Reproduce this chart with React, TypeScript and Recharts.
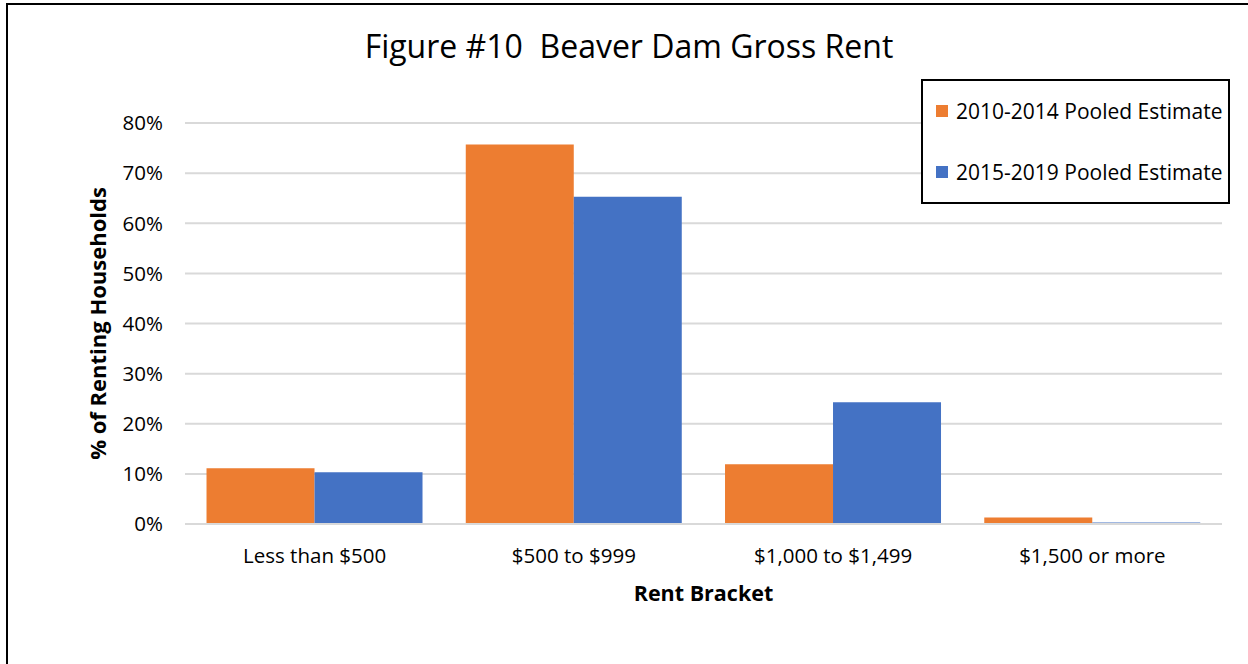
import { BarChart, Bar, XAxis, YAxis, CartesianGrid, Label } from 'recharts'

const brackets = ['Less than $500', '$500 to $999', '$1,000 to $1,499', '$1,500 or more']
const seriesNames = ['2010-2014 Pooled Estimate', '2015-2019 Pooled Estimate']
const pooled2010to2014 = [11.1, 75.7, 11.9, 1.3]
const pooled2015to2019 = [10.3, 65.3, 24.3, 0.3]
const yTicks = [0, 10, 20, 30, 40, 50, 60, 70, 80]

const FONT = '"Open Sans", sans-serif'
const ORANGE = '#ED7D31'
const BLUE = '#4472C4'
const seriesColors = [ORANGE, BLUE]

const data = brackets.map((bracket, i) => ({
  bracket,
  early: pooled2010to2014[i],
  late: pooled2015to2019[i],
}))

export default function App() {
  return (
    <div style={{ position: 'absolute', left: 0, top: 0, width: 1248, height: 664, background: '#fff', overflow: 'hidden' }}>
      <div style={{ position: 'absolute', left: 0, top: 0 }}>
        <BarChart
          width={1248}
          height={664}
          data={data}
          margin={{ top: 123, right: 26, bottom: 80, left: 85 }}
          barCategoryGap="8.3%"
          barGap={0}
        >
          <CartesianGrid vertical={false} stroke="#d9d9d9" strokeWidth={2} />
          <XAxis
            dataKey="bracket"
            axisLine={{ stroke: '#d9d9d9', strokeWidth: 2 }}
            tickLine={false}
            tickMargin={18}
            tick={{ fontFamily: FONT, fontSize: 20.5, fill: '#000' }}
            height={60}
          >
            <Label
              value="Rent Bracket"
              position="insideBottom"
              offset={-17}
              style={{ fontFamily: FONT, fontSize: 21.5, fontWeight: 700, fill: '#000' }}
            />
          </XAxis>
          <YAxis
            domain={[0, 80]}
            ticks={yTicks}
            interval={0}
            tickFormatter={(v: number) => `${v}%`}
            axisLine={false}
            tickLine={false}
            tickSize={0}
            tickMargin={22}
            width={100}
            tick={{ fontFamily: FONT, fontSize: 20.5, fill: '#000' }}
          >
            <Label
              value="% of Renting Households"
              angle={-90}
              position="insideLeft"
              offset={13}
              style={{ textAnchor: 'middle', fontFamily: FONT, fontSize: 22, fontWeight: 700, fill: '#000' }}
            />
          </YAxis>
          <Bar dataKey="early" name={seriesNames[0]} fill={ORANGE} isAnimationActive={false} />
          <Bar dataKey="late" name={seriesNames[1]} fill={BLUE} isAnimationActive={false} />
        </BarChart>
      </div>
      <div
        style={{
          position: 'absolute',
          left: 6,
          top: 3,
          width: 1260,
          height: 680,
          borderLeft: '2px solid #000',
          borderTop: '2px solid #000',
        }}
      />
      <div
        style={{
          position: 'absolute',
          left: 185,
          width: 888,
          top: 24,
          textAlign: 'center',
          fontFamily: FONT,
          fontSize: 32,
          color: '#000',
          whiteSpace: 'pre',
        }}
      >
        Figure #10  Beaver Dam Gross Rent
      </div>
      <div
        style={{
          position: 'absolute',
          left: 921,
          top: 79,
          width: 309,
          height: 125,
          border: '2px solid #000',
          boxSizing: 'border-box',
          background: '#fff',
          fontFamily: FONT,
          fontSize: 21,
          color: '#000',
          padding: '15px 0 0 13px',
        }}
      >
        {seriesNames.map((name, i) => (
          <div key={name} style={{ display: 'flex', alignItems: 'center', height: 30, marginBottom: i === 0 ? 31 : 0, whiteSpace: 'nowrap' }}>
            <span style={{ width: 12, height: 12, background: seriesColors[i], marginRight: 8, flexShrink: 0 }} />
            {name}
          </div>
        ))}
      </div>
    </div>
  )
}
